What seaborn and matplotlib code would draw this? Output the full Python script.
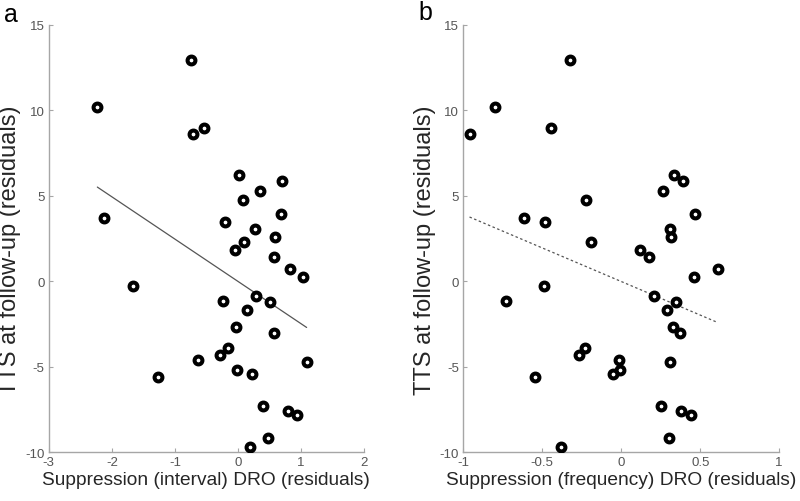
import numpy as np
import pandas as pd
import matplotlib
matplotlib.use('Agg')
import matplotlib.pyplot as plt
import seaborn as sns

# TTS at follow-up (residuals), shared by both panels
tts = [10.2, 12.93, 8.63, 8.95, 3.69, 6.23, 5.86, 5.29, 4.77, 3.91, 3.44, 3.05, 2.60,
       2.31, 1.82, 1.41, 0.69, 0.24, -0.31, -0.88, -1.19, -1.21, -1.70, -2.67, -3.06,
       -3.94, -4.35, -4.59, -4.72, -5.19, -5.45, -5.60, -7.32, -7.61, -7.85, -9.20, -9.68]

# suppression (interval) DRO residuals
interval = [-2.23, -0.75, -0.71, -0.54, -2.12, 0.02, 0.70, 0.35, 0.08, 0.69, -0.20, 0.27, 0.59,
            0.10, -0.04, 0.58, 0.83, 1.03, -1.66, 0.29, -0.24, 0.51, 0.15, -0.03, 0.57,
            -0.15, -0.29, -0.64, 1.09, -0.02, 0.23, -1.26, 0.39, 0.80, 0.93, 0.48, 0.19]

# suppression (frequency) DRO residuals
frequency = [-0.80, -0.325, -0.96, -0.445, -0.616, 0.335, 0.394, 0.263, -0.224, 0.47, -0.48, 0.31, 0.316,
             -0.19, 0.12, 0.173, 0.61, 0.46, -0.49, 0.206, -0.73, 0.35, 0.29, 0.33, 0.375,
             -0.226, -0.266, -0.013, 0.306, -0.009, -0.05, -0.544, 0.25, 0.38, 0.44, 0.30, -0.38]

df = pd.DataFrame({'tts': tts, 'interval': interval, 'frequency': frequency})

sns.set_style('white')
plt.rcParams['font.family'] = ['Liberation Sans', 'DejaVu Sans']

spine_col = '#a6a6a6'
tick_col = '#555555'
label_col = '#262626'

fig = plt.figure(figsize=(8, 5.02), dpi=100)
ax_a = fig.add_axes([0.061, 0.0976, 0.394, 0.851])
ax_b = fig.add_axes([0.579, 0.0976, 0.395, 0.851])

panels = [
    (ax_a, 'interval', 'Suppression (interval) DRO (residuals)', (-3, 2), [-3, -2, -1, 0, 1, 2], ['-3', '-2', '-1', '0', '1', '2'], '-', -0.124),
    (ax_b, 'frequency', 'Suppression (frequency) DRO (residuals)', (-1, 1), [-1, -0.5, 0, 0.5, 1], ['-1', '-0.5', '0', '0.5', '1'], (0, (2, 2)), -0.12),
]

for ax, col, xlabel, xlim, xticks, xticklabels, ls, ylab_x in panels:
    sns.regplot(data=df, x=col, y='tts', ax=ax, scatter=False, ci=None, truncate=True,
                line_kws={'color': '#555555', 'lw': 0.9, 'ls': ls})
    sns.scatterplot(data=df, x=col, y='tts', ax=ax, s=32, facecolor='white',
                    edgecolor='black', linewidth=2.9, zorder=3)
    ax.set_xlim(*xlim)
    ax.set_ylim(-10, 15)
    ax.set_xticks(xticks)
    ax.set_xticklabels(xticklabels)
    ax.set_yticks([-10, -5, 0, 5, 10, 15])
    ax.set_yticklabels(['-10', '-5', '0', '5', '10', '15'])
    for s in ['top', 'right']:
        ax.spines[s].set_visible(False)
    for s in ['left', 'bottom']:
        ax.spines[s].set_color(spine_col)
        ax.spines[s].set_linewidth(1.0)
    ax.tick_params(direction='in', length=3, width=0.8, color=spine_col,
                   labelcolor=tick_col, labelsize=9.5, pad=3,
                   bottom=True, left=True)
    ax.set_xlabel(xlabel, fontsize=13.8, color=label_col, labelpad=2)
    ax.set_ylabel('TTS at follow-up (residuals)', fontsize=17, color=label_col, va='center')
    ax.yaxis.set_label_coords(ylab_x, 0.474)
    ax.patch.set_alpha(0)

fig.text(0.005, 0.995, 'a', fontsize=18, color='black', va='top', ha='left')
fig.text(0.523, 0.998, 'b', fontsize=18, color='black', va='top', ha='left')

fig.savefig('out.png', dpi=100, facecolor='white')
